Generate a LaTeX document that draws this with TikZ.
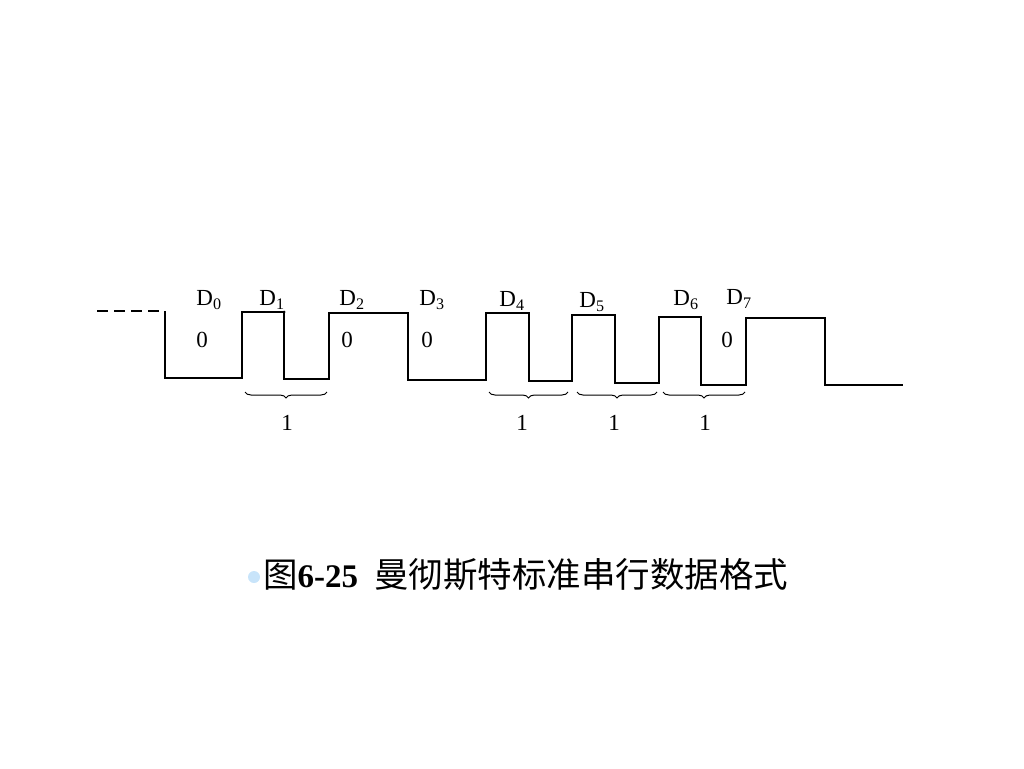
\documentclass[tikz,border=0pt]{standalone}
\usepackage{fontspec}
\setmainfont{Liberation Serif}
\newfontfamily\cjk{Noto Sans CJK SC}
\usetikzlibrary{decorations.pathreplacing}
\definecolor{bulletblue}{RGB}{200,228,250}
\tikzset{
  wave/.style={line width=1.6pt, line join=miter},
  lab/.style={font=\fontsize{23}{24}\selectfont, inner sep=0pt},
  brc/.style={line width=1pt, decorate, decoration={brace, mirror, amplitude=6pt}},
}
\begin{document}
\begin{tikzpicture}[x=1pt,y=-1pt]
\useasboundingbox (0,0) rectangle (1024,768);
% dashed lead-in
\coordinate (s) at (97,311);
\coordinate (w0) at (165,311);
\draw[wave, dash pattern=on 11pt off 6pt] (s) -- (w0);
% waveform
\draw[wave] (w0) -- (165,378) -- (242,378) -- (242,312) -- (284,312) -- (284,379)
  -- (329,379) -- (329,313) -- (408,313) -- (408,380) -- (486,380) -- (486,313)
  -- (529,313) -- (529,381) -- (572,381) -- (572,315) -- (615,315) -- (615,383)
  -- (659,383) -- (659,317) -- (701,317) -- (701,385) -- (746,385) -- (746,318)
  -- (825,318) -- (825,385) -- (903,385);
\fill (284,312) circle (1.5pt);
% D labels
\node[lab] (d0) at (209,300) {D\textsubscript{0}};
\node[lab] (d1) at (272,300) {D\textsubscript{1}};
\node[lab] (d2) at (352,300) {D\textsubscript{2}};
\node[lab] (d3) at (432,300) {D\textsubscript{3}};
\node[lab] (d4) at (512,301) {D\textsubscript{4}};
\node[lab] (d5) at (592,302) {D\textsubscript{5}};
\node[lab] (d6) at (686,300) {D\textsubscript{6}};
\node[lab] (d7) at (739,299) {D\textsubscript{7}};
% 0 labels
\node[lab] (z0) at (202,340) {0};
\node[lab] (z2) at (347,340) {0};
\node[lab] (z3) at (427,340) {0};
\node[lab] (z7) at (727,340) {0};
% braces
\coordinate (b1a) at (245,392); \coordinate (b1b) at (327,392);
\coordinate (b4a) at (489,392); \coordinate (b4b) at (568,392);
\coordinate (b5a) at (577,392); \coordinate (b5b) at (657,392);
\coordinate (b6a) at (663,392); \coordinate (b6b) at (745,392);
\draw[brc] (b1a) -- (b1b);
\draw[brc] (b4a) -- (b4b);
\draw[brc] (b5a) -- (b5b);
\draw[brc] (b6a) -- (b6b);
\node[lab] (o1) at (287,423) {1};
\node[lab] (o4) at (522,423) {1};
\node[lab] (o5) at (614,423) {1};
\node[lab] (o6) at (705,423) {1};
% caption
\fill[bulletblue] (254,577) circle (6pt);
\node[anchor=west, inner sep=0pt, font=\fontsize{33}{36}\selectfont\bfseries] (cap) at (263,575)
  {{\cjk\mdseries\fontsize{34.5}{36}\selectfont 图}6-25\hspace{16pt}{\cjk\mdseries\fontsize{34.5}{36}\selectfont 曼彻斯特标准串行数据格式}};
\end{tikzpicture}
\end{document}
